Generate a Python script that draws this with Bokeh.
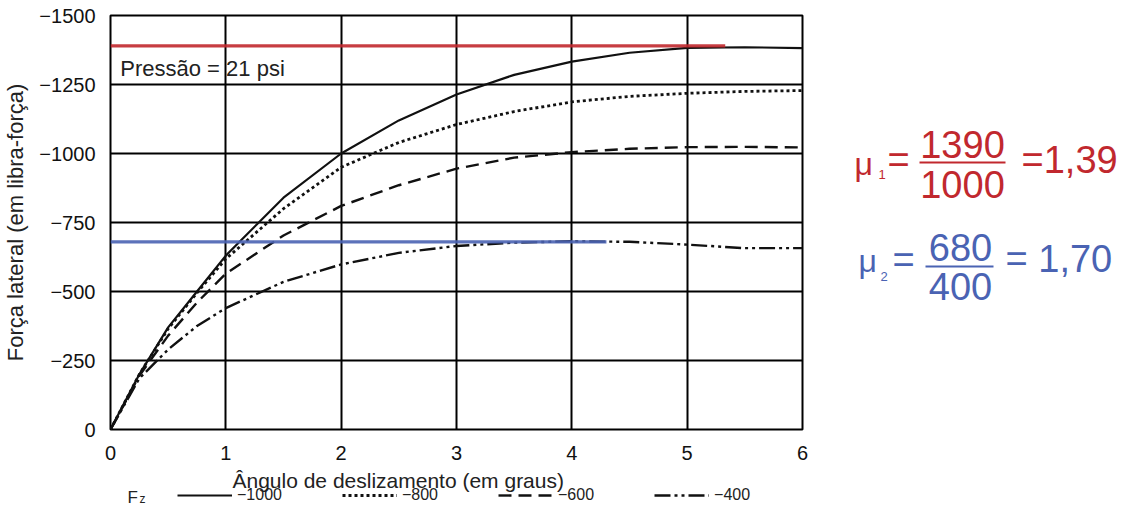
from bokeh.plotting import figure
from bokeh.models import Range1d, FixedTicker, Label, Legend, LegendItem
from bokeh.layouts import row, column
from bokeh.embed import file_html
from bokeh.resources import INLINE
from bokeh.core.properties import value

FONT = "Liberation Sans"
RED = "#c1282e"
BLUE = "#4a63b3"
INK = "#111111"
TXT = "#222222"

# ---------------- data ----------------
angle = [0, 0.25, 0.5, 0.75, 1, 1.5, 2, 2.5, 3, 3.5, 4, 4.5, 5, 5.5, 6]
fz_1000 = [0, -200, -370, -500, -630, -840, -1000, -1120, -1214, -1285, -1333, -1365, -1383, -1385, -1382]
fz_800 = [0, -200, -365, -495, -618, -800, -950, -1040, -1105, -1152, -1187, -1207, -1218, -1225, -1228]
fz_600 = [0, -195, -340, -460, -565, -703, -810, -885, -945, -985, -1005, -1017, -1023, -1024, -1022]
fz_400 = [0, -185, -290, -375, -440, -535, -598, -640, -665, -677, -682, -680, -670, -657, -657]

series_labels = ["\u22121000", "\u2212800", "\u2212600", "\u2212400"]

x_ticks = [0, 1, 2, 3, 4, 5, 6]
y_ticks = [0, -250, -500, -750, -1000, -1250, -1500]
y_tick_labels = ["0", "\u2212250", "\u2212500", "\u2212750", "\u22121000", "\u22121250", "\u22121500"]

mu1_force, mu1_load = 1390, 1000
mu2_force, mu2_load = 680, 400
red_line_x = [0, 5.33]
blue_line_x = [0, 4.3]

pressure_text = "Press\u00e3o = 21 psi"
x_label = "\u00c2ngulo de deslizamento (em graus)"
y_label = "For\u00e7a lateral (em libra-for\u00e7a)"

DASHES = [None, "3 3", "13 7", "16 4 3 4 3 4"]
WIDTHS = [2.2, 2.8, 2.4, 2.4]


def styled_line(fig, xs, ys, d, w):
    if d is None:
        return fig.line(xs, ys, line_color=INK, line_width=w)
    return fig.line(xs, ys, line_color=INK, line_width=w, line_dash=d)


# ---------------- main chart ----------------
p = figure(width=821, height=463, x_range=Range1d(0, 6), y_range=Range1d(0, -1500),
           output_backend="svg", toolbar_location=None,
           min_border_left=102, min_border_right=19, min_border_top=15, min_border_bottom=34)
p.background_fill_color = "white"
p.border_fill_color = "white"
p.outline_line_color = "black"
p.outline_line_width = 2

p.xaxis.ticker = FixedTicker(ticks=x_ticks)
p.yaxis.ticker = FixedTicker(ticks=y_ticks)
p.yaxis.major_label_overrides = {t: l for t, l in zip(y_ticks, y_tick_labels)}
for ax in (p.xaxis[0], p.yaxis[0]):
    ax.axis_line_color = None
    ax.major_tick_line_color = None
    ax.minor_tick_line_color = None
    ax.major_label_text_font = FONT
    ax.major_label_text_font_size = "20px"
    ax.major_label_text_color = INK
p.xaxis.major_label_standoff = 10
p.yaxis.major_label_standoff = 9
p.yaxis.axis_label = y_label
p.yaxis.axis_label_text_font = FONT
p.yaxis.axis_label_text_font_size = "22px"
p.yaxis.axis_label_text_font_style = "normal"
p.yaxis.axis_label_text_color = TXT
p.yaxis.axis_label_standoff = 8

p.xgrid.ticker = FixedTicker(ticks=x_ticks)
p.ygrid.ticker = FixedTicker(ticks=y_ticks)
for g in (p.xgrid[0], p.ygrid[0]):
    g.grid_line_color = "black"
    g.grid_line_width = 2
    g.grid_line_alpha = 1

for ys, d, w in zip([fz_1000, fz_800, fz_600, fz_400], DASHES, WIDTHS):
    styled_line(p, angle, ys, d, w)

p.line(red_line_x, [-mu1_force, -mu1_force], line_color=RED, line_width=3.2, line_alpha=0.9)
p.line(blue_line_x, [-mu2_force, -mu2_force], line_color=BLUE, line_width=3.2, line_alpha=0.9)

p.add_layout(Label(x=0.085, y=-1308, text=pressure_text, text_font=FONT, text_font_size="22px",
                   text_color=TXT, text_baseline="alphabetic"))

# ---------------- x label + legend strip ----------------
lf = figure(width=821, height=43, x_range=Range1d(0, 6), y_range=Range1d(514, 471),
            output_backend="svg", toolbar_location=None,
            min_border_left=102, min_border_right=19, min_border_top=0, min_border_bottom=0,
            x_axis_type=None, y_axis_type=None)
lf.grid.visible = False
lf.outline_line_color = None
lf.background_fill_color = "white"
lf.border_fill_color = "white"

lf.add_layout(Label(x=1.114, y=488, text=x_label, text_font=FONT, text_font_size="21px",
                    text_color=TXT, text_baseline="alphabetic"))

items = []
for lab, d, w in zip(series_labels, DASHES, WIDTHS):
    rr = styled_line(lf, [-2, -1], [600, 600], d, w)   # off-range proxy, only drawn in the legend
    items.append(LegendItem(label=lab, renderers=[rr]))

legend = Legend(items=items, orientation="horizontal", location=(75, 2), glyph_width=55,
                glyph_height=12, label_height=12, label_standoff=5, spacing=60, padding=0, margin=0,
                border_line_color=None, background_fill_alpha=0, label_text_font=FONT,
                label_text_font_size="16px", label_text_color=TXT)
lf.add_layout(legend)
lf.add_layout(Label(x=0.214, y=505, text="F", text_font=FONT, text_font_size="17px",
                    text_color=TXT, text_baseline="alphabetic"))
lf.add_layout(Label(x=0.318, y=506, text="z", text_font=FONT, text_font_size="12px",
                    text_color=TXT, text_baseline="alphabetic"))

# ---------------- formulas ----------------
p2 = figure(width=300, height=463, x_range=Range1d(829, 1129), y_range=Range1d(437, 23),
            output_backend="svg", toolbar_location=None,
            min_border_left=0, min_border_right=0, min_border_top=15, min_border_bottom=34,
            x_axis_type=None, y_axis_type=None)
p2.grid.visible = False
p2.outline_line_color = None
p2.background_fill_color = "white"
p2.border_fill_color = "white"


def txt(x, y, s, size, color, align="left"):
    p2.text(x=[x], y=[y], text=[s], text_font=value(FONT), text_font_size=size,
            text_color=color, text_align=align, text_baseline="middle")


def ratio(a, b):
    return f"{a / b:.2f}".replace(".", ",")

# mu1
txt(862, 171, "\u03bc", "32px", RED)
txt(886, 182, "1", "13px", RED)
txt(895, 167, "=", "38px", RED)
txt(970, 152, str(mu1_force), "38px", RED, "center")
p2.segment(x0=[927], y0=[170], x1=[1013], y1=[170], line_color=RED, line_width=2)
txt(970, 192, str(mu1_load), "38px", RED, "center")
txt(1029, 167, "=" + ratio(mu1_force, mu1_load), "38px", RED)

# mu2
txt(866, 268, "\u03bc", "32px", BLUE)
txt(888, 284, "2", "13px", BLUE)
txt(900, 267, "=", "38px", BLUE)
txt(968, 255, str(mu2_force), "38px", BLUE, "center")
p2.segment(x0=[933], y0=[274], x1=[1001], y1=[274], line_color=BLUE, line_width=2)
txt(968, 294, str(mu2_load), "38px", BLUE, "center")
txt(1013, 266, "= " + ratio(mu2_force, mu2_load), "38px", BLUE)

layout = column(row(p, p2), lf)
open("out.html", "w").write(file_html(layout, INLINE))
